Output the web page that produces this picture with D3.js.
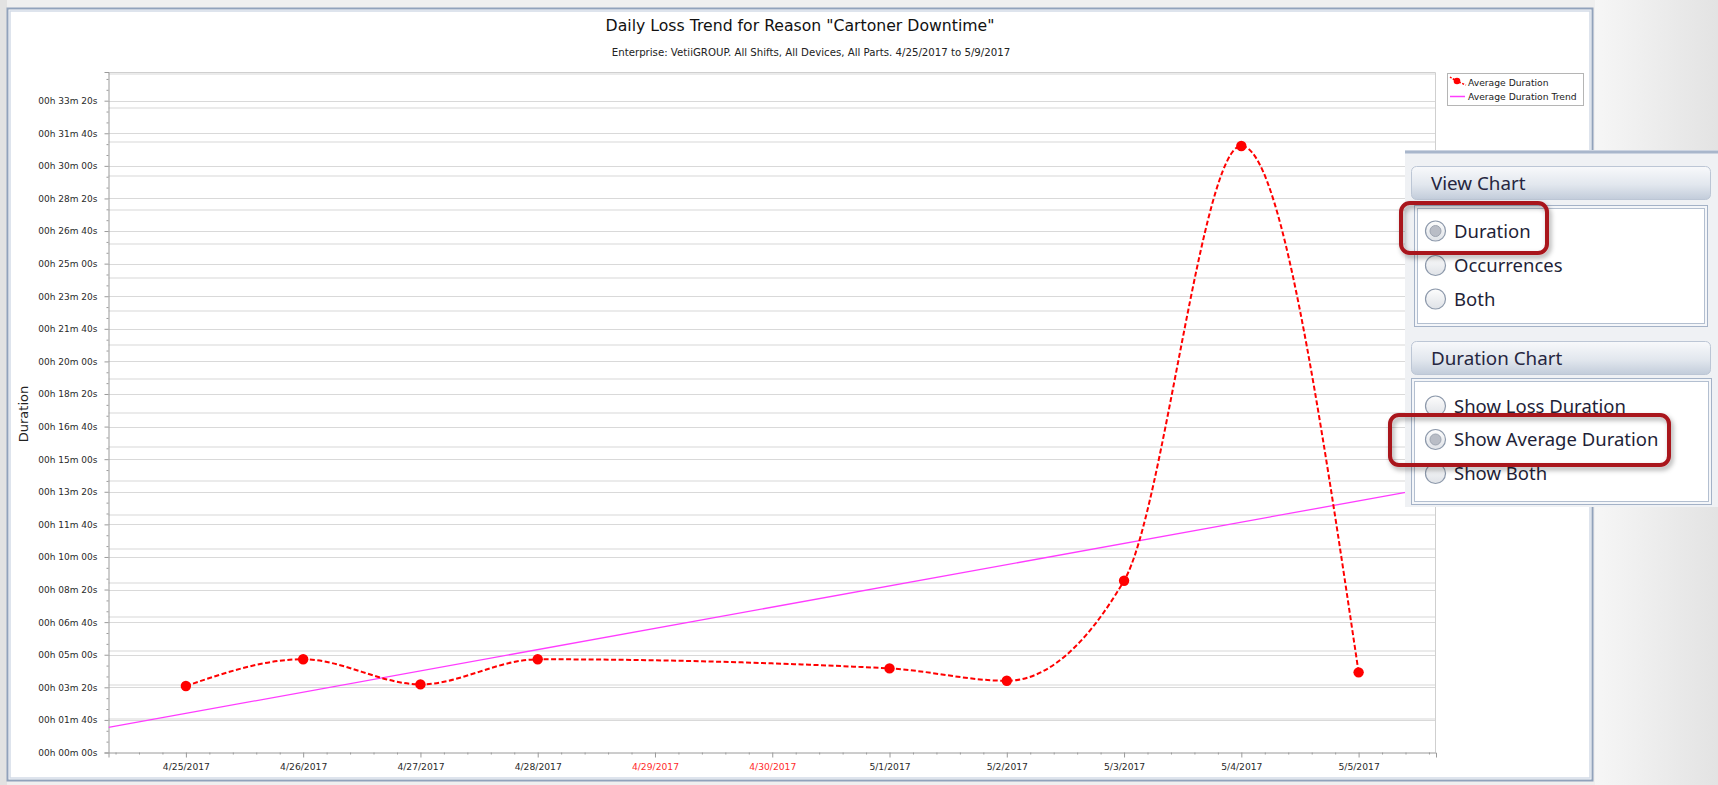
<!DOCTYPE html>
<html>
<head>
<meta charset="utf-8">
<script src="https://cdn.jsdelivr.net/npm/d3@7"></script>
<style>
  body { margin: 0; background: #eeeeee; overflow: hidden; }
  svg { display: block; }
</style>
</head>
<body>
<script>
// ---- data ----
const dayLabels = ["4/25/2017", "4/26/2017", "4/27/2017", "4/28/2017", "4/29/2017", "4/30/2017",
                   "5/1/2017", "5/2/2017", "5/3/2017", "5/4/2017", "5/5/2017"]
const weekendLabels = ["4/29/2017", "4/30/2017"]

// average duration per day, in seconds (no data on the weekend)
const pointDays = ["4/25/2017", "4/26/2017", "4/27/2017", "4/28/2017", "5/1/2017",
                   "5/2/2017", "5/3/2017", "5/4/2017", "5/5/2017"]
const avgDurationSec = [204, 286, 209, 286, 258, 220, 527, 1861, 246]

// trend line, given at both ends of the x range (day index, seconds)
const trendDays = [-0.66, 10.66]
const trendSec = [77, 815]

const yTickSec = [0, 100, 200, 300, 400, 500, 600, 700, 800, 900, 1000,
                  1100, 1200, 1300, 1400, 1500, 1600, 1700, 1800, 1900, 2000]
// second (hidden) axis gridlines
const occGridTicks = [1, 2, 3, 4, 5, 6, 7, 8, 9, 10, 11, 12, 13, 14, 15, 16, 17, 18, 19, 20]

const titleText = 'Daily Loss Trend for Reason "Cartoner Downtime"'
const subtitleText = 'Enterprise: VetiiGROUP. All Shifts, All Devices, All Parts. 4/25/2017 to 5/9/2017'
const legendItems = ["Average Duration", "Average Duration Trend"]
const viewChartOptions = ["Duration", "Occurrences", "Both"]
const durationChartOptions = ["Show Loss Duration", "Show Average Duration", "Show Both"]

// ---- layout ----
const W = 1718, H = 785
const plot = {left: 108.5, right: 1436, top: 72, bottom: 752.5}
const chartFont = '"DejaVu Sans", Verdana, sans-serif'
const uiFont = '"Noto Sans", "Open Sans", sans-serif'

const svg = d3.select('body').append('svg')
    .attr('width', W)
    .attr('height', H)

const defs = svg.append('defs')

const bgGrad = defs.append('linearGradient').attr('id', 'bgGrad')
bgGrad.append('stop').attr('offset', '0%').attr('stop-color', '#f6f6f6')
bgGrad.append('stop').attr('offset', '100%').attr('stop-color', '#e3e3e3')

const headGrad = defs.append('linearGradient').attr('id', 'headGrad')
    .attr('x1', 0).attr('y1', 0).attr('x2', 0).attr('y2', 1)
headGrad.append('stop').attr('offset', '0%').attr('stop-color', '#f8f9fb')
headGrad.append('stop').attr('offset', '55%').attr('stop-color', '#e2e7ee')
headGrad.append('stop').attr('offset', '100%').attr('stop-color', '#c2ccda')

const radioGrad = defs.append('linearGradient').attr('id', 'radioGrad')
    .attr('x1', 0).attr('y1', 0).attr('x2', 0).attr('y2', 1)
radioGrad.append('stop').attr('offset', '0%').attr('stop-color', '#fdfdfd')
radioGrad.append('stop').attr('offset', '100%').attr('stop-color', '#dfe2e7')

const shadow = defs.append('filter').attr('id', 'shadow')
    .attr('x', '-10%').attr('y', '-30%').attr('width', '130%').attr('height', '180%')
shadow.append('feDropShadow')
    .attr('dx', 2).attr('dy', 3).attr('stdDeviation', 2.5)
    .attr('flood-color', '#000').attr('flood-opacity', 0.35)

defs.append('clipPath').attr('id', 'plotClip')
  .append('rect')
    .attr('x', plot.left).attr('y', plot.top)
    .attr('width', plot.right - plot.left).attr('height', plot.bottom - plot.top)

// page background + chart frame
svg.append('rect').attr('width', W).attr('height', H).attr('fill', '#efefef')
svg.append('rect').attr('x', 1595).attr('width', W - 1595).attr('height', H).attr('fill', 'url(#bgGrad)')
svg.append('rect').attr('width', 7).attr('height', H).attr('fill', '#e2e2e2')

svg.append('rect')
    .attr('x', 7.5).attr('y', 8.5).attr('width', 1585).attr('height', 772)
    .attr('fill', '#fff')
    .attr('stroke', '#91a2bb').attr('stroke-width', 2)
svg.append('rect')
    .attr('x', 10).attr('y', 11).attr('width', 1580).attr('height', 767)
    .attr('fill', 'none')
    .attr('stroke', '#d3dbe7').attr('stroke-width', 1.5)

// ---- scales ----
const xScale = d3.scaleLinear()
    .domain([-0.66, 10.66])
    .range([plot.left, plot.right])

const yScale = d3.scaleLinear()
    .domain([0, 2088])
    .range([plot.bottom, plot.top])

const occScale = d3.scaleLinear()
    .domain([0, 20.06])
    .range([plot.bottom, plot.top])

const crisp = v => Math.round(v) + 0.5

// ---- gridlines ----
svg.append('g')
  .selectAll('line')
  .data(occGridTicks)
  .join('line')
    .attr('x1', plot.left).attr('x2', plot.right)
    .attr('y1', d => Math.round(occScale(d)))
    .attr('y2', d => Math.round(occScale(d)))
    .attr('stroke', '#ebebeb')
    .attr('stroke-width', 2)

svg.append('g')
  .selectAll('line')
  .data(yTickSec.filter(d => d > 0))
  .join('line')
    .attr('x1', plot.left).attr('x2', plot.right)
    .attr('y1', d => crisp(yScale(d)))
    .attr('y2', d => crisp(yScale(d)))
    .attr('stroke', '#d9d9d9')
    .attr('stroke-width', 1)

// plot border (top/right)
svg.append('path')
    .attr('d', `M${plot.left},${plot.top + 0.5}H${plot.right - 0.5}V${plot.bottom}`)
    .attr('fill', 'none')
    .attr('stroke', '#cfcfcf')

// ---- axes ----
function fmtDuration(s) {
  const m = Math.floor(s / 60), r = Math.round(s % 60)
  return '00h ' + String(m).padStart(2, '0') + 'm ' + String(r).padStart(2, '0') + 's'
}

const yMinor = d3.range(0, 63).map(k => k * 100 / 3).filter((v, k) => k % 3 !== 0 && v < 2088)

const yAxis = svg.append('g')
    .attr('transform', `translate(${plot.left},0)`)
    .call(d3.axisLeft(yScale).tickValues(yTickSec).tickFormat(fmtDuration).tickSize(4).tickPadding(7))
svg.append('g')
    .attr('transform', `translate(${plot.left},0)`)
    .call(d3.axisLeft(yScale).tickValues(yMinor).tickFormat('').tickSize(2))
    .call(g => g.select('.domain').remove())

const xMinor = d3.range(-3, 54).filter(k => k % 5 !== 0).map(k => k / 5)

const xAxis = svg.append('g')
    .attr('transform', `translate(0,${plot.bottom})`)
    .call(d3.axisBottom(xScale).tickValues(d3.range(dayLabels.length))
      .tickFormat(i => dayLabels[i]).tickSize(5).tickPadding(6))
svg.append('g')
    .attr('transform', `translate(0,${plot.bottom})`)
    .call(d3.axisBottom(xScale).tickValues(xMinor).tickFormat('').tickSize(2))
    .call(g => g.select('.domain').remove())

svg.selectAll('.domain, .tick line').attr('stroke', '#9a9a9a')
yAxis.selectAll('text')
    .attr('font-family', chartFont).attr('font-size', 9).attr('fill', '#2a2a2a')
xAxis.selectAll('text')
    .attr('font-family', chartFont).attr('font-size', 9.2)
    .attr('fill', (i) => weekendLabels.includes(dayLabels[i]) ? '#ff2b2b' : '#2a2a2a')

// axis title
svg.append('text')
    .attr('transform', 'translate(28,414) rotate(-90)')
    .attr('text-anchor', 'middle')
    .attr('font-family', chartFont).attr('font-size', 13).attr('fill', '#222')
    .text('Duration')

// titles
svg.append('text')
    .attr('x', 800).attr('y', 31)
    .attr('text-anchor', 'middle')
    .attr('font-family', chartFont).attr('font-size', 15.7).attr('fill', '#111')
    .text(titleText)
svg.append('text')
    .attr('x', 811).attr('y', 56)
    .attr('text-anchor', 'middle')
    .attr('font-family', chartFont).attr('font-size', 10.2).attr('fill', '#222')
    .text(subtitleText)

// ---- series ----
const plotG = svg.append('g').attr('clip-path', 'url(#plotClip)')

const trendData = trendDays.map((d, i) => ({x: d, y: trendSec[i]}))
plotG.append('path')
    .datum(trendData)
    .attr('d', d3.line().x(d => xScale(d.x)).y(d => yScale(d.y)))
    .attr('fill', 'none')
    .attr('stroke', '#ff3cff')
    .attr('stroke-width', 1.3)

const points = pointDays.map((d, i) => ({x: dayLabels.indexOf(d), y: avgDurationSec[i]}))

plotG.append('path')
    .datum(points)
    .attr('d', d3.line().x(d => xScale(d.x)).y(d => yScale(d.y)).curve(d3.curveMonotoneX))
    .attr('fill', 'none')
    .attr('stroke', '#ff0000')
    .attr('stroke-width', 2)
    .attr('stroke-dasharray', '5,2.5')

plotG.selectAll('circle')
    .data(points)
    .join('circle')
    .attr('cx', d => xScale(d.x))
    .attr('cy', d => yScale(d.y))
    .attr('r', 5.2)
    .attr('fill', '#ff0000')

// ---- legend ----
const legend = svg.append('g').attr('transform', 'translate(1447,73)')
legend.append('rect')
    .attr('x', 0.5).attr('y', 0.5).attr('width', 136).attr('height', 32)
    .attr('fill', '#fff').attr('stroke', '#b5b5b5')
legend.append('path')
    .attr('d', 'M3,4 Q6,6 10,8 T19,12')
    .attr('fill', 'none').attr('stroke', '#ff0000').attr('stroke-width', 1.5)
    .attr('stroke-dasharray', '2,1.5')
legend.append('circle').attr('cx', 10).attr('cy', 8).attr('r', 3.3).attr('fill', '#ff0000')
legend.append('line')
    .attr('x1', 3).attr('x2', 18).attr('y1', 23.5).attr('y2', 23.5)
    .attr('stroke', '#ff3cff').attr('stroke-width', 1.5)
legend.selectAll('text.item')
  .data(legendItems)
  .join('text')
    .attr('class', 'item')
    .attr('x', 21)
    .attr('y', (d, i) => 12.6 + i * 14.4)
    .attr('font-family', chartFont).attr('font-size', 9.2).attr('fill', '#222')
    .text(d => d)

// ---- option panel laid over the chart ----
const panel = svg.append('g')
panel.append('rect')
    .attr('x', 1405).attr('y', 150).attr('width', W - 1405).attr('height', 357)
    .attr('fill', '#eff1f4')
panel.append('line')
    .attr('x1', 1405).attr('x2', W).attr('y1', 152).attr('y2', 152)
    .attr('stroke', '#a8b6cb').attr('stroke-width', 3)

function groupBox(title, options, selected, top, boxTop, boxLeft, boxW, boxH, radioYs) {
  panel.append('rect')
      .attr('x', 1411.5).attr('y', top + 0.5).attr('width', 299).attr('height', 33).attr('rx', 5)
      .attr('fill', 'url(#headGrad)').attr('stroke', '#bcc6d5')
  panel.append('text')
      .attr('x', 1431).attr('y', top + 24)
      .attr('font-family', uiFont).attr('font-size', 18.8).attr('fill', '#262640')
      .text(title)
  panel.append('rect')
      .attr('x', boxLeft + 0.5).attr('y', boxTop + 0.5).attr('width', boxW).attr('height', boxH)
      .attr('fill', '#f4f6f9').attr('stroke', '#a4b2c7')
  panel.append('rect')
      .attr('x', boxLeft + 3.5).attr('y', boxTop + 3.5).attr('width', boxW - 6).attr('height', boxH - 6)
      .attr('fill', '#fff').attr('stroke', '#b3bfd0')
  const rows = panel.append('g').selectAll('g')
    .data(options)
    .join('g')
      .attr('transform', (d, i) => `translate(1435.5,${radioYs[i]})`)
  rows.append('circle')
      .attr('r', 10)
      .attr('fill', 'url(#radioGrad)').attr('stroke', '#8d99ab').attr('stroke-width', 1.2)
  rows.filter(d => d === selected)
    .append('circle')
      .attr('r', 5.5)
      .attr('fill', '#b9bdc6').attr('stroke', '#9ea5b1')
  rows.append('text')
      .attr('x', 18.5).attr('y', 6.8)
      .attr('font-family', uiFont).attr('font-size', 18.5).attr('fill', '#1f1f38')
      .text(d => d)
}

groupBox('View Chart', viewChartOptions, 'Duration', 166, 205, 1414, 293, 121, [231, 265.5, 299])
groupBox('Duration Chart', durationChartOptions, 'Show Average Duration', 341, 378, 1411, 300, 126, [406, 439.5, 473.5])

// red highlight boxes
const highlights = [
  {x: 1401, y: 203, w: 146, h: 50},
  {x: 1390, y: 415, w: 279, h: 50}
]
panel.selectAll('rect.hl')
  .data(highlights)
  .join('rect')
    .attr('class', 'hl')
    .attr('x', d => d.x).attr('y', d => d.y)
    .attr('width', d => d.w).attr('height', d => d.h)
    .attr('rx', 9)
    .attr('fill', 'none')
    .attr('stroke', '#a9141c')
    .attr('stroke-width', 4)
    .attr('filter', 'url(#shadow)')
</script>
</body>
</html>
